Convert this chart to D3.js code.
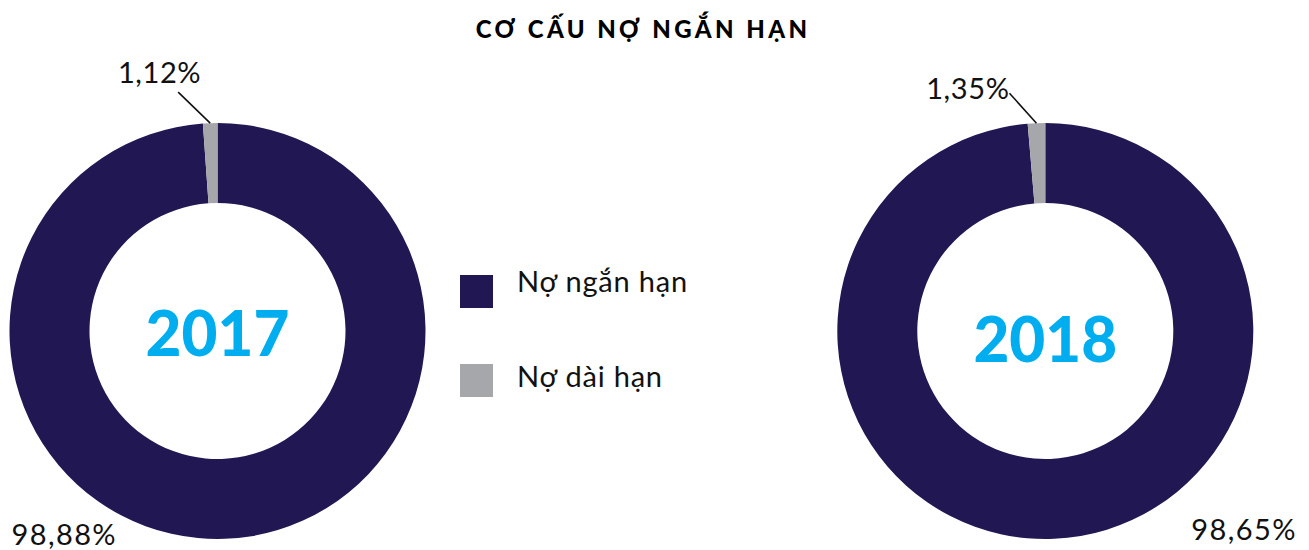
<!DOCTYPE html>
<html>
<head>
<meta charset="utf-8">
<script src="https://cdn.jsdelivr.net/npm/d3@7"></script>
<style>
  body { margin: 0; background: #fff; }
  svg text { font-family: Lato, "Noto Sans", sans-serif; }
</style>
</head>
<body>
<div id="chart"></div>
<script>
// data
var years = ['2017', '2018'];
var categories = ['Nợ ngắn hạn', 'Nợ dài hạn'];
var shortTerm = [98.88, 98.65];
var longTerm = [1.12, 1.35];
var title = 'CƠ CẤU NỢ NGẮN HẠN';

var colors = ['#211853', '#a6a7ab'];

var W = 1309, H = 550;
var svg = d3.select('#chart').append('svg')
  .attr('width', W).attr('height', H);

// layout for each donut
var donuts = [
  { cx: 217.5, cy: 331, yearDy: 0, small: { dx: -32, dy: -31, tx: 23, ty: -9 }, big: { dx: -206, dy: 214 } },
  { cx: 1045.3, cy: 331, yearDy: 6, small: { dx: -27, dy: -30, tx: 0, ty: 6 }, big: { dx: 146, dy: 209 } }
];
var outerR = 208, innerR = 128;

svg.append('text')
  .attr('x', 643).attr('y', 38)
  .attr('text-anchor', 'middle')
  .attr('font-size', 24).attr('font-weight', 900)
  .attr('letter-spacing', 3.4)
  .text(title);

var pie = d3.pie().sort(null).value(function(d) { return d; });
var arc = d3.arc().innerRadius(innerR).outerRadius(outerR);
var fmt = function(v) { return d3.format('.2f')(v).replace('.', ',') + '%'; };

years.forEach(function(yr, i) {
  var L = donuts[i];
  var g = svg.append('g').attr('transform', 'translate(' + L.cx + ',' + L.cy + ')');
  var slices = pie([shortTerm[i], longTerm[i]]);

  g.selectAll('path').data(slices).enter().append('path')
    .attr('d', arc)
    .attr('fill', function(d, j) { return colors[j]; });

  // leader for small slice
  var s = slices[1];
  var mid = (s.startAngle + s.endAngle) / 2;
  var p0 = [outerR * Math.sin(mid), -outerR * Math.cos(mid)];
  var p1 = [p0[0] + L.small.dx, p0[1] + L.small.dy];
  g.append('line')
    .attr('x1', p0[0]).attr('y1', p0[1])
    .attr('x2', p1[0]).attr('y2', p1[1])
    .attr('stroke', '#111').attr('stroke-width', 1.6);
  g.append('text')
    .attr('x', p1[0] + L.small.tx).attr('y', p1[1] + L.small.ty)
    .attr('text-anchor', 'end')
    .attr('font-size', 29).attr('fill', '#111')
    .attr('letter-spacing', 0.6)
    .text(fmt(longTerm[i]));

  g.append('text')
    .attr('x', L.big.dx).attr('y', L.big.dy)
    .attr('font-size', 29).attr('fill', '#111')
    .attr('letter-spacing', 1.4)
    .text(fmt(shortTerm[i]));

  g.append('text')
    .attr('x', 0).attr('y', L.yearDy + 25)
    .attr('text-anchor', 'middle')
    .attr('font-size', 62).attr('font-weight', 900)
    .attr('fill', '#00aeef')
    .text(yr);
});

// legend
var legend = svg.append('g').attr('transform', 'translate(460,275)');
var items = legend.selectAll('g').data(categories).enter().append('g')
  .attr('transform', function(d, i) { return 'translate(0,' + (i * 89) + ')'; });
items.append('rect')
  .attr('width', 33).attr('height', 33)
  .attr('fill', function(d, i) { return colors[i]; });
items.append('text')
  .attr('x', 57).attr('y', function(d, i) { return i ? 23 : 17; })
  .attr('font-size', 29).attr('fill', '#111')
  .attr('letter-spacing', 0.8)
  .text(function(d) { return d; });
</script>
</body>
</html>
